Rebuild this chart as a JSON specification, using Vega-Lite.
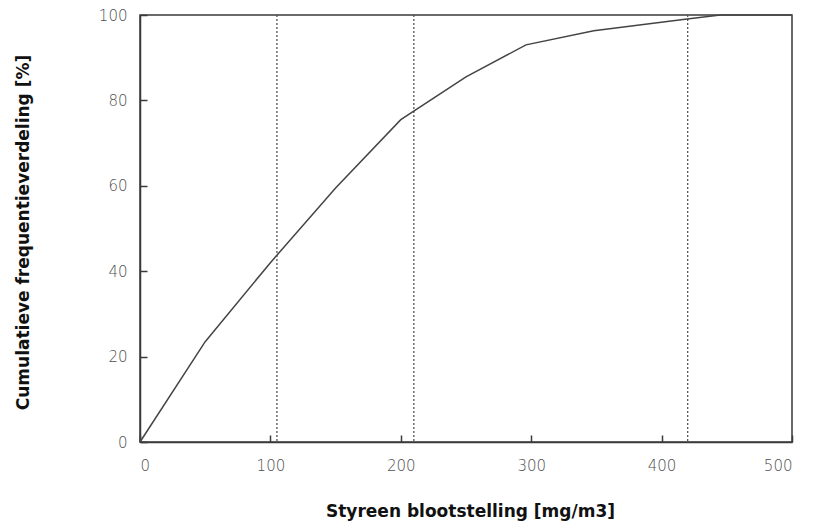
{
  "$schema": "https://vega.github.io/schema/vega-lite/v6.json",
  "autosize": "none",
  "width": 652,
  "height": 427,
  "padding": {"left": 140, "top": 15, "right": 21, "bottom": 80},
  "background": "white",
  "config": {
    "view": {"stroke": "#3a3a3a", "strokeWidth": 1.5},
    "axis": {
      "grid": false,
      "domainColor": "#3a3a3a",
      "domainWidth": 1.5,
      "tickColor": "#3a3a3a",
      "tickWidth": 1.5,
      "labelFont": "DejaVu Sans",
      "labelFontSize": 15,
      "labelFontWeight": 200,
      "labelColor": "#505050",
      "titleFont": "DejaVu Sans",
      "titleFontSize": 17,
      "titleFontWeight": "bold",
      "titleColor": "#111111"
    }
  },
  "datasets": {
    "curve": [
      {"x": 0, "y": 0},
      {"x": 50, "y": 23.5},
      {"x": 100, "y": 42},
      {"x": 150, "y": 59.5},
      {"x": 200, "y": 75.5},
      {"x": 250, "y": 85.5},
      {"x": 296, "y": 93},
      {"x": 348, "y": 96.3},
      {"x": 418, "y": 99},
      {"x": 445, "y": 100},
      {"x": 500, "y": 100}
    ],
    "refs": [
      {"x": 105},
      {"x": 210},
      {"x": 420}
    ]
  },
  "layer": [
    {
      "data": {"name": "refs"},
      "mark": {"type": "rule", "color": "#555555", "strokeWidth": 1.3, "strokeDash": [2, 2]},
      "encoding": {
        "x": {"field": "x", "type": "quantitative", "scale": {"domain": [0, 500], "nice": false}}
      }
    },
    {
      "data": {"name": "curve"},
      "mark": {"type": "line", "color": "#444444", "strokeWidth": 1.5},
      "encoding": {
        "x": {
          "field": "x",
          "type": "quantitative",
          "scale": {"domain": [0, 500], "nice": false},
          "axis": {
            "title": "Styreen blootstelling [mg/m3]",
            "values": [0, 100, 200, 300, 400, 500],
            "tickSize": -7,
            "labelPadding": 23,
            "titleX": 330,
            "titleY": 69,
            "titleAnchor": null,
            "titleAlign": "center",
            "titleBaseline": "middle"
          }
        },
        "y": {
          "field": "y",
          "type": "quantitative",
          "scale": {"domain": [0, 100], "nice": false},
          "axis": {
            "title": "Cumulatieve frequentieverdeling [%]",
            "values": [0, 20, 40, 60, 80, 100],
            "tickSize": -7,
            "labelPadding": 20,
            "titleX": -117,
            "titleY": 217,
            "titleAngle": -90,
            "titleAlign": "center",
            "titleBaseline": "middle"
          }
        }
      }
    }
  ]
}
